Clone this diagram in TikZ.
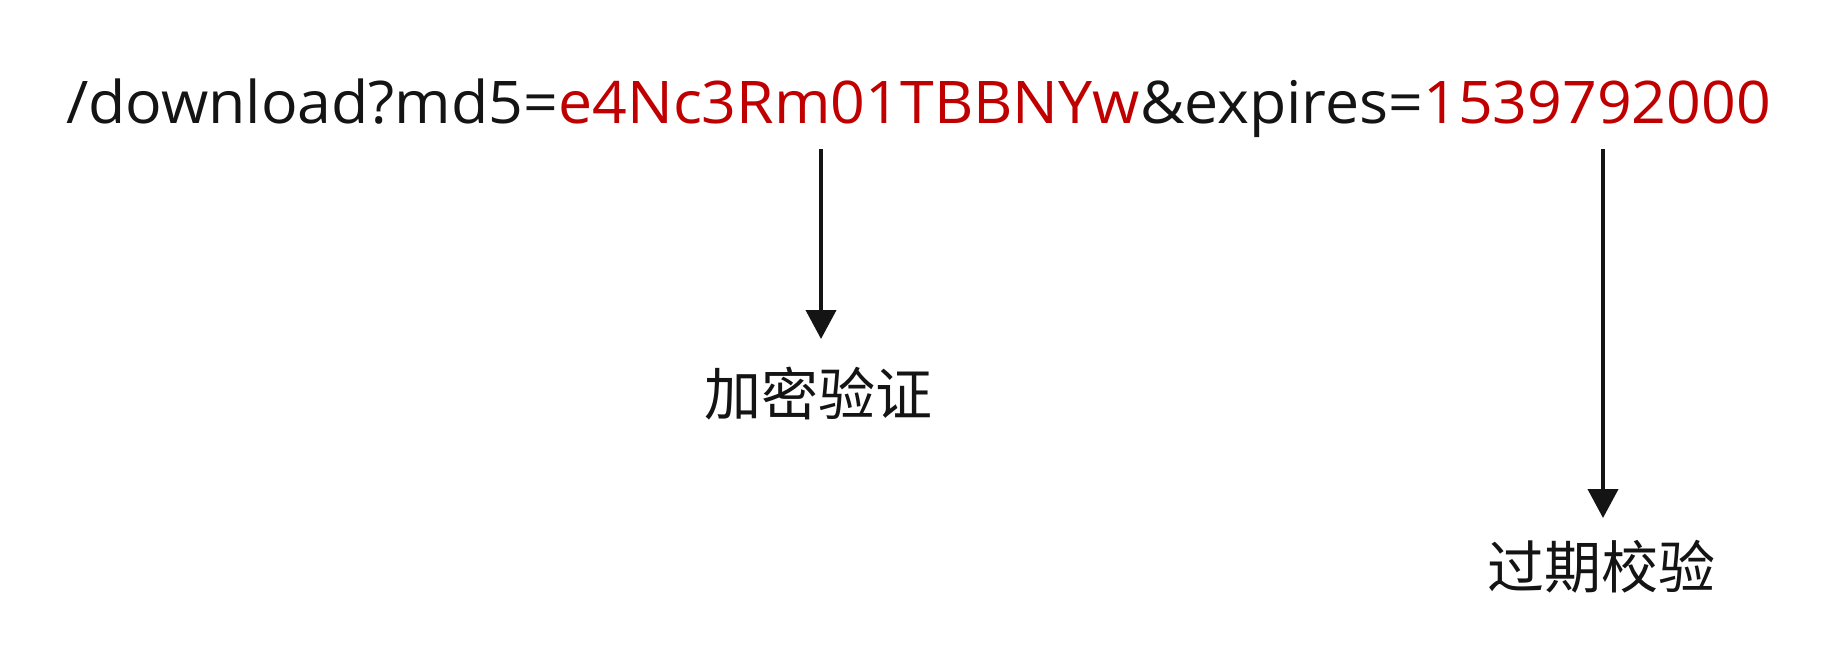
\documentclass[tikz,border=0pt]{standalone}
\usepackage{fontspec}
\setmainfont{Open Sans}[FakeStretch=1.034]
\newfontfamily\cjk{Noto Sans CJK SC}
\usetikzlibrary{arrows.meta}
\definecolor{urlred}{RGB}{192,0,0}
\definecolor{ink}{RGB}{20,20,20}
\tikzset{
  urltext/.style={inner sep=0pt, outer sep=0pt, anchor=base west, font=\fontsize{29.4}{34}\selectfont},
  label/.style={inner sep=0pt, font=\cjk\fontsize{28.5}{32}\selectfont, text=ink},
  arr/.style={line width=2pt, draw=ink, -{Triangle[width=15pt,length=14.5pt]}},
}
\begin{document}
\begin{tikzpicture}[x=0.5pt,y=-0.5pt]
\useasboundingbox[fill=white] (0,0) rectangle (1834,660);
\node[urltext, text=ink] (u1) at (66,123) {/download?md5=};
\node[urltext, text=urlred] (u2) at (u1.base east) {e4Nc3Rm01TBBNYw};
\node[urltext, text=ink] (u3) at (u2.base east) {\&expires=};
\node[urltext, text=urlred] (u4) at (u3.base east) {1539792000};
\coordinate (s1) at (821,149);
\coordinate (s2) at (1603,149);
\node[label] (l1) at (818,394) {加密验证};
\node[label] (l2) at (1601,567) {过期校验};
\draw[arr] (s1) -- (s1 |- 0,339);
\draw[arr] (s2) -- (s2 |- 0,518);
\end{tikzpicture}
\end{document}
